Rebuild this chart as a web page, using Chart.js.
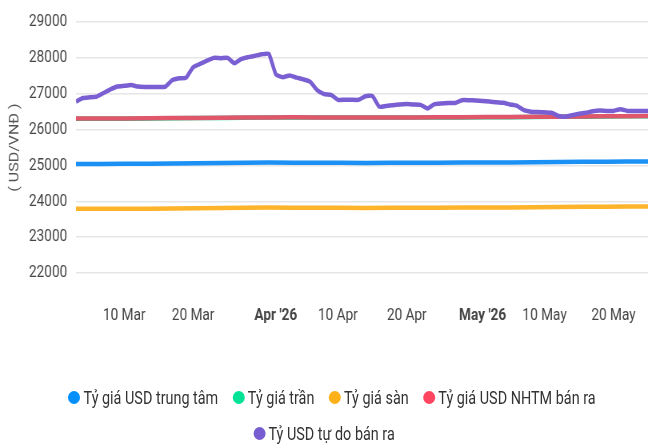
<!DOCTYPE html>
<html>
<head>
<meta charset="utf-8">
<script src="https://cdn.jsdelivr.net/npm/chart.js@4.4.1/dist/chart.umd.min.js"></script>
<style>
  html, body { margin:0; padding:0; background:#fff; overflow:hidden; }
  #outer { position:relative; width:648px; height:448px; overflow:hidden; }
  #wrap { position:absolute; left:0; top:0; width:810px; height:448px; transform:scaleX(0.8); transform-origin:0 0; }
  #c { position:absolute; left:0; top:0; }
  #legend { position:absolute; left:0; top:379px; width:810px;
            font-family:Roboto,sans-serif; font-size:18px; color:#333; }
  .row { display:flex; justify-content:center; height:36px; }
  .row.first { padding-left:20px; }
  .item { display:flex; align-items:center; height:36px; margin:0 9px; white-space:nowrap; }
  .dot { width:15px; height:13px; border-radius:50%; margin-right:4px; }
</style>
</head>
<body>
<div id="outer">
<div id="wrap">
  <canvas id="c" width="810" height="345"></canvas>
  <div id="legend"></div>
</div>
</div>
<script>
// ---- data (x = days since 1 Mar 2026) ----
const seriesNames = ['Tỷ giá USD trung tâm', 'Tỷ giá trần', 'Tỷ giá sàn', 'Tỷ giá USD NHTM bán ra', 'Tỷ USD tự do bán ra'];
const seriesColors = ['#1B90F5', '#00E396', '#FDB32A', '#E0566A', '#7A5FD2'];
const legendColors = ['#008FFB', '#00E396', '#FEB019', '#FF4560', '#775DD0'];
const legendRows = [[0, 1, 2, 3], [4]];

const officialDays = [2, 9, 16, 23, 30, 37, 44, 51, 58, 65, 72, 79, 85];
const centralRate  = [25040, 25045, 25055, 25065, 25080, 25075, 25070, 25075, 25080, 25085, 25095, 25105, 25110];
const ceilingRate  = [26305, 26305, 26315, 26325, 26335, 26335, 26335, 26335, 26340, 26345, 26355, 26365, 26375];
const floorRate    = [23790, 23790, 23800, 23810, 23825, 23820, 23815, 23820, 23825, 23830, 23840, 23850, 23855];
const bankSellRate = [26310, 26310, 26320, 26330, 26340, 26340, 26340, 26340, 26345, 26350, 26360, 26370, 26380];

const freeDays = [2,3,4,5,6,7,8,9,10,11,12,13,14,15,16,17,18,19,20,21,22,23,24,25,26,27,28,29,30,
  31,32,33,34,35,36,37,38,39,40,41,42,43,44,45,46,47,48,49,50,51,52,53,54,55,56,57,58,59,60,
  61,62,63,64,65,66,67,68,69,70,71,72,73,74,75,76,77,78,79,80,81,82,83,84,85];
const freeSellRate = [26780,26880,26900,26920,27020,27120,27200,27220,27240,27200,27190,27190,27190,27200,
  27380,27430,27450,27740,27830,27920,28000,27990,28000,27850,27970,28020,28060,28100,28110,
  27540,27460,27510,27450,27400,27330,27100,26990,26970,26830,26830,26830,26830,26930,26940,
  26640,26660,26680,26700,26710,26700,26690,26590,26710,26730,26740,26740,26820,26820,26810,
  26800,26780,26760,26750,26700,26660,26540,26500,26490,26480,26470,26380,26360,26400,26440,
  26470,26510,26530,26520,26520,26570,26520,26520,26520,26520];

const tickDays   = [9, 19, 31, 40, 50, 61, 70, 80];
const tickLabels = ['10 Mar', '20 Mar', "Apr '26", '10 Apr', '20 Apr', "May '26", '10 May', '20 May'];
const boldTicks  = [31, 61];
const yTicks     = [22000, 23000, 24000, 25000, 26000, 27000, 28000, 29000];
const yTitle     = '( USD/VNĐ )';

// ---- build ----
const pts = (xs, ys) => xs.map((x, i) => ({ x: x, y: ys[i] }));
const seriesData = [
  pts(officialDays, centralRate),
  pts(officialDays, ceilingRate),
  pts(officialDays, floorRate),
  pts(officialDays, bankSellRate),
  pts(freeDays, freeSellRate)
];
const drawOrder = [3, 4, 2, 1, 0];

const FONT = 'Roboto, sans-serif';

new Chart(document.getElementById('c'), {
  type: 'line',
  data: {
    datasets: seriesNames.map((n, i) => ({
      label: n,
      data: seriesData[i],
      borderColor: seriesColors[i],
      backgroundColor: seriesColors[i],
      borderWidth: 4.5,
      pointRadius: 0,
      tension: 0.15,
      order: drawOrder[i]
    }))
  },
  options: {
    responsive: false,
    animation: false,
    layout: { padding: { left: 0, right: 0, top: 22, bottom: 0 } },
    plugins: { legend: { display: false }, tooltip: { enabled: false } },
    scales: {
      x: {
        type: 'linear',
        min: 2, max: 85,
        grid: { display: false, drawTicks: false },
        border: { display: false },
        afterBuildTicks: (s) => { s.ticks = tickDays.map(v => ({ value: v })); },
        afterFit: (s) => { s.height = 72; s.paddingRight = 0; s.paddingLeft = 0; },
        ticks: {
          autoSkip: false,
          maxRotation: 0,
          padding: 33,
          color: '#444',
          font: (ctx) => ({ family: FONT, size: 17, weight: (ctx.tick && boldTicks.includes(ctx.tick.value)) ? 'bold' : 'normal' }),
          callback: (v) => { const i = tickDays.indexOf(v); return i >= 0 ? tickLabels[i] : ''; }
        }
      },
      y: {
        min: 22000, max: 29000,
        afterBuildTicks: (s) => { s.ticks = yTicks.map(v => ({ value: v })); },
        afterFit: (s) => { s.width = 95; },
        grid: { color: '#e6e6e6', lineWidth: 1.5, drawTicks: false },
        border: { display: false },
        ticks: { padding: 11, color: '#444', font: { family: FONT, size: 17 }, callback: (v) => String(v) },
        title: { display: true, text: yTitle, color: '#555', padding: { top: 9, bottom: 0 },
                 font: { family: FONT, size: 16 } }
      }
    }
  }
});

// ---- HTML legend ----
const lg = document.getElementById('legend');
legendRows.forEach((row, r) => {
  const rowEl = document.createElement('div'); rowEl.className = 'row' + (r === 0 ? ' first' : '');
  row.forEach((i) => {
    const it = document.createElement('div'); it.className = 'item';
    const d = document.createElement('span'); d.className = 'dot'; d.style.background = legendColors[i];
    const t = document.createElement('span'); t.textContent = seriesNames[i];
    it.appendChild(d); it.appendChild(t); rowEl.appendChild(it);
  });
  lg.appendChild(rowEl);
});
</script>
</body>
</html>
